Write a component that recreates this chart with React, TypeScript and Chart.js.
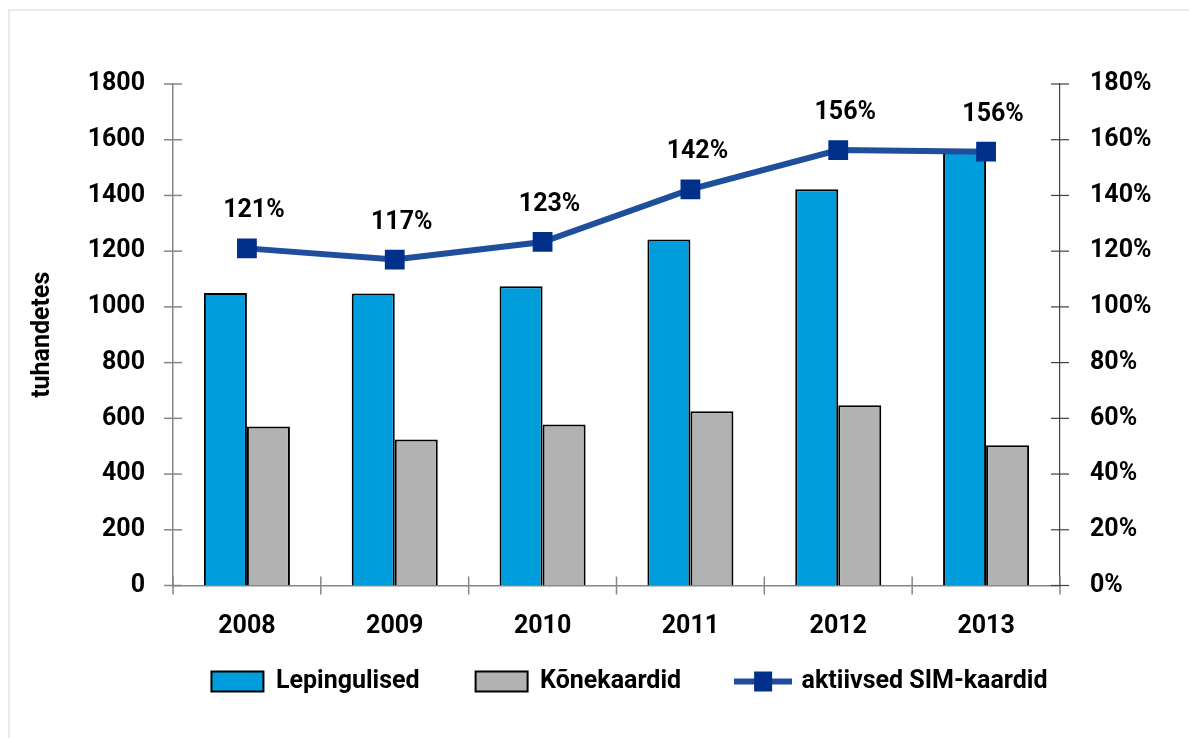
import React, { useEffect, useRef } from 'react';
import { Chart, registerables } from 'chart.js';

Chart.register(...registerables);

const categories = ['2008', '2009', '2010', '2011', '2012', '2013'];
const lepingulised = [1050, 1048, 1074, 1242, 1422, 1557];
const konekaardid = [571, 524, 578, 625, 647, 503];
const aktiivsedSim = [121, 117, 123.3, 142.2, 156.3, 155.7];
const aktiivsedSimLabels = ['121%', '117%', '123%', '142%', '156%', '156%'];
const seriesNames = ['Lepingulised', 'Kõnekaardid', 'aktiivsed SIM-kaardid'];
const leftAxis = { min: 0, max: 1800, step: 200 };
const rightAxis = { min: 0, max: 180, step: 20 };
const yTitle = 'tuhandetes';

const FONT_FAMILY = 'Roboto, "Liberation Sans", sans-serif';
const FONT = { family: FONT_FAMILY, size: 25, weight: 'bold' as const };
const BLUE = '#009DDC';
const GRAY = '#B2B2B2';
const LINE = '#1F4E9C';
const MARKER = '#00308A';
const AXIS_GRAY = '#868686';
const AXIS_DARK = '#404040';

function makeLineLegendImage(): HTMLCanvasElement {
  const c = document.createElement('canvas');
  c.width = 58;
  c.height = 24;
  const g = c.getContext('2d')!;
  g.strokeStyle = LINE;
  g.lineWidth = 6;
  g.beginPath();
  g.moveTo(0, 12);
  g.lineTo(58, 12);
  g.stroke();
  g.fillStyle = MARKER;
  g.fillRect(20, 2, 18, 20);
  return c;
}

const layoutTweaks = {
  id: 'layoutTweaks',
  afterLayout(chart: any) {
    // let the x tick labels draw below the (short) x axis box
    chart.scales.x.bottom += 60;
    // legend sits a little right of centre in the reference
    if (chart.legend) {
      chart.legend.left += 30;
      chart.legend.right += 30;
      chart.legend.top -= 2;
      chart.legend.bottom -= 2;
    }
  },
};

const crossTicks = {
  id: 'crossTicks',
  afterDraw(chart: any) {
    const { ctx, chartArea, scales } = chart;
    const L = 9;
    ctx.save();
    const seg = (x1: number, y1: number, x2: number, y2: number) => {
      ctx.beginPath();
      ctx.moveTo(x1, y1);
      ctx.lineTo(x2, y2);
      ctx.stroke();
    };
    ctx.strokeStyle = AXIS_GRAY;
    ctx.lineWidth = 1.5;
    const y = scales.y;
    y.ticks.forEach((_: any, i: number) => {
      const py = y.getPixelForTick(i);
      seg(chartArea.left - L, py, chartArea.left + L, py);
    });
    const x = scales.x;
    const n = categories.length;
    for (let i = 0; i <= n; i++) {
      let px;
      if (i === 0) px = chartArea.left;
      else if (i === n) px = chartArea.right;
      else px = (x.getPixelForValue(i - 1) + x.getPixelForValue(i)) / 2;
      seg(px, chartArea.bottom - L, px, chartArea.bottom + L);
    }
    ctx.strokeStyle = AXIS_DARK;
    ctx.lineWidth = 1.2;
    const y1 = scales.y1;
    y1.ticks.forEach((_: any, i: number) => {
      const py = y1.getPixelForTick(i);
      seg(chartArea.right - L, py, chartArea.right + L, py);
    });
    ctx.restore();
  },
};

const pointLabels = {
  id: 'pointLabels',
  afterDatasetsDraw(chart: any) {
    const { ctx } = chart;
    const meta = chart.getDatasetMeta(2);
    ctx.save();
    ctx.font = `bold 25px ${FONT_FAMILY}`;
    ctx.fillStyle = '#000';
    ctx.textAlign = 'center';
    ctx.textBaseline = 'alphabetic';
    meta.data.forEach((pt: any, i: number) => {
      ctx.fillText(aktiivsedSimLabels[i], pt.x + 7, pt.y - 31);
    });
    ctx.restore();
  },
};

export default function App() {
  const ref = useRef<HTMLCanvasElement>(null);

  useEffect(() => {
    if (!ref.current) return;
    const lineImg = makeLineLegendImage();
    const chart = new Chart(ref.current, {
      type: 'bar',
      data: {
        labels: categories,
        datasets: [
          {
            type: 'bar',
            label: seriesNames[0],
            data: lepingulised,
            backgroundColor: BLUE,
            borderColor: '#000',
            borderWidth: 2,
            yAxisID: 'y',
            order: 1,
            categoryPercentage: 0.582,
            barPercentage: 1,
          },
          {
            type: 'bar',
            label: seriesNames[1],
            data: konekaardid,
            backgroundColor: GRAY,
            borderColor: '#000',
            borderWidth: 2,
            yAxisID: 'y',
            order: 1,
            categoryPercentage: 0.582,
            barPercentage: 1,
          },
          {
            type: 'line',
            label: seriesNames[2],
            data: aktiivsedSim,
            borderColor: LINE,
            borderWidth: 6,
            pointStyle: 'rect',
            pointRadius: 14,
            pointBackgroundColor: MARKER,
            pointBorderColor: MARKER,
            pointBorderWidth: 0,
            tension: 0,
            yAxisID: 'y1',
            order: 0,
          } as any,
        ],
      },
      options: {
        responsive: false,
        animation: false,
        layout: { padding: { top: 73, left: 0, right: 0, bottom: 105 } },
        plugins: {
          tooltip: { enabled: false },
          legend: {
            position: 'bottom',
            labels: {
              usePointStyle: true,
              pointStyleWidth: 52,
              boxHeight: 20,
              padding: 56,
              color: '#000',
              font: FONT,
              generateLabels: () => [
                { text: seriesNames[0], fillStyle: BLUE, strokeStyle: '#000', lineWidth: 2, pointStyle: 'rect', datasetIndex: 0, hidden: false, fontColor: '#000' },
                { text: seriesNames[1], fillStyle: GRAY, strokeStyle: '#000', lineWidth: 2, pointStyle: 'rect', datasetIndex: 1, hidden: false, fontColor: '#000' },
                { text: seriesNames[2], fillStyle: MARKER, strokeStyle: MARKER, lineWidth: 0, pointStyle: lineImg as any, datasetIndex: 2, hidden: false, fontColor: '#000' },
              ] as any,
            },
          },
        },
        scales: {
          x: {
            grid: { display: false, drawTicks: false },
            border: { display: true, color: AXIS_GRAY, width: 1.5 },
            ticks: { color: '#000', font: FONT, padding: 26 },
            afterFit: (s: any) => { s.height = 29.5; },
          },
          y: {
            position: 'left',
            min: leftAxis.min,
            max: leftAxis.max,
            grid: { display: false, drawTicks: false },
            border: { display: true, color: AXIS_GRAY, width: 1.5 },
            ticks: { stepSize: leftAxis.step, color: '#000', font: FONT, padding: 28, callback: (v: any) => String(v) },
            title: { display: true, text: yTitle, color: '#000', font: FONT, padding: { top: 18, bottom: 0 } },
            afterFit: (s: any) => { s.width = 163; },
          },
          y1: {
            position: 'right',
            min: rightAxis.min,
            max: rightAxis.max,
            grid: { display: false, drawTicks: false },
            border: { display: true, color: AXIS_DARK, width: 1.2 },
            ticks: { stepSize: rightAxis.step, color: '#000', font: FONT, padding: 30, callback: (v: any) => `${v}%` },
            afterFit: (s: any) => { s.width = 129; },
          },
        },
      },
      plugins: [layoutTweaks, crossTicks, pointLabels],
    });
    return () => chart.destroy();
  }, []);

  return (
    <div
      style={{
        position: 'fixed',
        left: 8,
        top: 9,
        width: 1181,
        height: 729,
        borderTop: '2px solid #ebebeb',
        borderLeft: '2px solid #ebebeb',
        overflow: 'hidden',
        background: '#fff',
      }}
    >
      <canvas ref={ref} width={1179} height={800} style={{ display: 'block' }} />
    </div>
  );
}
